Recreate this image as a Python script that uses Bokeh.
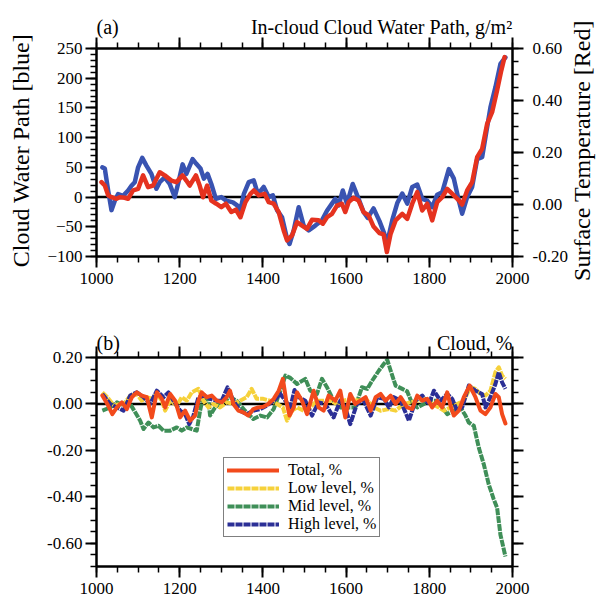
import math
from bokeh.plotting import figure
from bokeh.models import (Range1d, LinearAxis, SingleIntervalTicker,
                          Legend, LegendItem, PrintfTickFormatter, CustomJSTickFormatter)
from bokeh.core.properties import value
from bokeh.layouts import column
from bokeh.embed import file_html
from bokeh.resources import INLINE

# ---- (a) in-cloud cloud water path (g/m^2) and surface temperature anomaly
cwp_years = [1014, 1020, 1028, 1036, 1044, 1052, 1064, 1076, 1084, 1092, 1100, 1110,
             1120, 1132, 1144, 1152, 1164, 1176, 1188, 1196, 1207, 1216, 1231, 1240,
             1250, 1258, 1267, 1276, 1287, 1300, 1312, 1328, 1338, 1346, 1354, 1366,
             1378, 1388, 1402, 1414, 1424, 1434, 1446, 1458, 1464, 1474, 1486, 1498,
             1510, 1526, 1542, 1554, 1566, 1574, 1582, 1592, 1602, 1616, 1630, 1642,
             1652, 1666, 1680, 1692, 1700, 1711, 1723, 1735, 1747, 1759, 1771, 1783,
             1795, 1807, 1819, 1831, 1847, 1859, 1871, 1879, 1891, 1903, 1915, 1927,
             1935, 1947, 1959, 1971, 1983]
cwp_values = [50, 48, 11, -22, -6, 5, 2, 11, 19, 25, 50, 66,
              53, 39, 14, 25, 33, 22, 0, 22, 55, 39, 64, 56,
              48, 31, 39, 22, -3, 0, -6, -9, -14, -22, 5, 25,
              28, 5, 17, 0, 3, -22, -34, -70, -79, -56, -17, -48,
              -56, -48, -39, -23, -11, -3, -14, 11, -11, 22, -3, -25,
              -35, -19, -40, -62, -73, -39, -10, 6, -11, 17, 21, -3,
              -6, -17, 4, 8, 47, 31, -6, -28, 0, 17, 64, 67,
              101, 151, 185, 224, 235]

tas_years = [1012, 1020, 1028, 1036, 1048, 1056, 1068, 1076, 1088, 1100, 1112, 1124,
             1136, 1152, 1164, 1180, 1192, 1207, 1216, 1224, 1239, 1248, 1256, 1266,
             1276, 1288, 1300, 1311, 1324, 1335, 1346, 1358, 1370, 1378, 1390, 1404,
             1414, 1426, 1438, 1450, 1458, 1470, 1482, 1494, 1506, 1518, 1534, 1544,
             1554, 1566, 1578, 1590, 1598, 1606, 1618, 1630, 1642, 1654, 1666, 1680,
             1690, 1698, 1707, 1719, 1735, 1747, 1759, 1771, 1783, 1795, 1807, 1819,
             1831, 1843, 1859, 1871, 1879, 1891, 1903, 1915, 1927, 1939, 1951, 1963,
             1973, 1981]
tas_values = [0.086, 0.073, 0.035, 0.028, 0.022, 0.028, 0.026, 0.022, 0.054, 0.060, 0.112, 0.067,
              0.073, 0.124, 0.112, 0.092, 0.086, 0.112, 0.092, 0.073, 0.112, 0.073, 0.028, 0.073,
              0.015, 0.003, -0.010, 0.003, -0.029, -0.020, -0.049, 0.009, 0.041, 0.054, 0.035, 0.041,
              0.009, 0.003, -0.029, -0.100, -0.138, -0.119, -0.068, -0.081, -0.094, -0.059, -0.061, -0.074,
              -0.049, -0.036, -0.004, 0.003, -0.029, 0.009, 0.026, 0.015, -0.029, -0.042, -0.085, -0.110,
              -0.115, -0.183, -0.113, -0.061, -0.036, -0.055, 0.003, 0.048, -0.023, 0.003, -0.061, 0.009,
              0.028, 0.060, 0.035, 0.016, 0.000, 0.054, 0.086, 0.182, 0.214, 0.310, 0.355, 0.439,
              0.515, 0.567]

# ---- (b) cloud fraction anomalies (%)
total_years = [1014, 1026, 1038, 1049, 1061, 1073, 1085, 1097, 1109, 1121, 1133, 1145,
               1157, 1165, 1177, 1189, 1201, 1213, 1225, 1237, 1245, 1253, 1265, 1277,
               1289, 1301, 1313, 1321, 1329, 1341, 1353, 1365, 1377, 1389, 1401, 1413,
               1426, 1438, 1448, 1456, 1464, 1474, 1482, 1494, 1506, 1522, 1534, 1546,
               1558, 1574, 1586, 1598, 1610, 1622, 1634, 1647, 1659, 1671, 1683, 1695,
               1707, 1719, 1731, 1747, 1759, 1771, 1783, 1795, 1807, 1819, 1831, 1843,
               1851, 1859, 1871, 1883, 1897, 1911, 1923, 1935, 1947, 1959, 1967, 1975,
               1983]
total_values = [0.036, 0.000, -0.044, -0.015, 0.007, -0.022, 0.029, 0.050, 0.036, 0.029, -0.058, 0.050,
                0.022, -0.015, 0.043, 0.014, -0.058, -0.029, -0.072, -0.050, 0.014, 0.050, 0.029, 0.036,
                0.014, 0.007, 0.029, 0.057, 0.000, -0.029, -0.036, -0.050, -0.022, -0.015, -0.012, 0.000,
                0.022, 0.057, 0.108, 0.014, -0.050, -0.015, 0.050, 0.014, -0.044, 0.057, -0.015, -0.029,
                0.036, 0.014, 0.057, -0.058, 0.043, 0.000, 0.014, 0.029, -0.029, 0.029, 0.043, 0.014,
                0.036, 0.000, 0.029, -0.015, -0.022, 0.036, 0.014, 0.022, -0.015, 0.014, -0.015, 0.050,
                -0.007, -0.050, -0.029, 0.029, 0.079, 0.029, -0.029, -0.044, -0.015, 0.043, 0.029, -0.044,
                -0.084]

low_years = [1014, 1026, 1042, 1057, 1069, 1081, 1097, 1109, 1121, 1133, 1145, 1157,
             1165, 1177, 1193, 1205, 1217, 1229, 1245, 1257, 1269, 1281, 1297, 1313,
             1329, 1345, 1361, 1373, 1385, 1401, 1417, 1434, 1448, 1458, 1470, 1482,
             1498, 1514, 1530, 1546, 1562, 1578, 1594, 1614, 1630, 1647, 1667, 1683,
             1703, 1719, 1739, 1755, 1775, 1791, 1807, 1823, 1835, 1851, 1867, 1883,
             1899, 1911, 1923, 1935, 1947, 1959, 1967, 1975, 1983]
low_values = [0.050, 0.029, -0.007, 0.000, 0.007, 0.036, 0.043, 0.014, 0.029, 0.022, 0.043, 0.014,
              -0.029, 0.014, -0.007, 0.029, 0.014, 0.050, 0.065, 0.014, -0.015, 0.000, -0.015, 0.007,
              0.000, 0.014, 0.029, 0.065, 0.022, 0.022, 0.014, 0.000, -0.015, -0.072, -0.029, -0.015,
              -0.029, -0.015, 0.014, 0.014, 0.014, 0.000, 0.014, 0.022, 0.014, 0.022, -0.015, -0.029,
              -0.022, -0.029, 0.000, 0.007, 0.014, 0.022, 0.000, -0.015, -0.029, -0.015, 0.000, 0.014,
              0.072, 0.065, 0.043, 0.036, 0.057, 0.137, 0.158, 0.122, 0.108]

mid_years = [1014, 1033, 1049, 1065, 1081, 1093, 1105, 1113, 1125, 1137, 1149, 1161,
             1177, 1193, 1205, 1217, 1229, 1241, 1249, 1257, 1269, 1273, 1285, 1301,
             1321, 1337, 1357, 1377, 1394, 1410, 1426, 1442, 1454, 1466, 1482, 1502,
             1514, 1530, 1542, 1554, 1570, 1586, 1606, 1622, 1638, 1651, 1663, 1679,
             1691, 1699, 1707, 1719, 1735, 1747, 1759, 1771, 1787, 1803, 1819, 1831,
             1843, 1859, 1875, 1887, 1895, 1907, 1919, 1931, 1943, 1955, 1963, 1971,
             1983]
mid_values = [-0.029, -0.015, 0.007, -0.007, 0.000, -0.036, -0.072, -0.108, -0.080, -0.101, -0.094, -0.115,
              -0.115, -0.101, -0.115, -0.101, -0.108, -0.115, -0.029, 0.036, 0.014, -0.050, -0.015, 0.007,
              0.029, 0.014, -0.029, -0.065, -0.050, -0.058, -0.022, 0.057, 0.122, 0.112, 0.086, 0.108,
              0.057, 0.043, 0.108, 0.072, 0.014, -0.015, -0.015, -0.015, 0.072, 0.065, 0.101, 0.144,
              0.173, 0.190, 0.144, 0.079, 0.065, 0.054, 0.000, -0.015, 0.000, 0.014, 0.014, -0.015,
              -0.044, -0.029, -0.015, -0.050, -0.080, -0.094, -0.188, -0.260, -0.347, -0.411, -0.447, -0.563,
              -0.657]

high_years = [1014, 1033, 1049, 1065, 1081, 1097, 1113, 1129, 1145, 1161, 1173, 1185,
              1201, 1213, 1223, 1233, 1245, 1261, 1273, 1289, 1301, 1315, 1329, 1345,
              1361, 1377, 1394, 1410, 1426, 1442, 1454, 1466, 1476, 1486, 1502, 1518,
              1534, 1550, 1570, 1586, 1598, 1610, 1626, 1642, 1659, 1675, 1691, 1703,
              1715, 1731, 1751, 1767, 1783, 1799, 1811, 1827, 1843, 1855, 1867, 1879,
              1895, 1911, 1927, 1935, 1947, 1959, 1967, 1975, 1983]
high_values = [0.043, 0.000, -0.015, -0.029, 0.036, 0.050, 0.029, 0.000, 0.057, 0.029, 0.050, 0.014,
               -0.029, -0.044, -0.087, -0.050, 0.029, 0.036, 0.022, 0.014, 0.014, 0.072, 0.014, -0.029,
               -0.044, -0.029, -0.022, -0.007, 0.014, 0.043, 0.014, -0.015, 0.060, 0.029, 0.014, -0.050,
               0.007, 0.000, -0.058, 0.014, -0.015, -0.087, 0.000, 0.014, -0.050, 0.029, 0.022, -0.015,
               0.029, 0.014, -0.072, 0.014, 0.036, 0.000, 0.057, 0.014, 0.043, 0.022, -0.029, -0.015,
               0.079, 0.057, 0.043, -0.015, 0.029, 0.086, 0.137, 0.093, 0.065]

# axis extents of the two panels
YEAR_START, YEAR_END = 1000, 2000
CWP_MIN, CWP_MAX = -100, 250
TAS_MIN, TAS_MAX = -0.2, 0.6
CLD_MIN, CLD_MAX = -0.7, 0.2

SERIF = "Liberation Serif"
EPS = 1e-9

# page geometry (pixels): each plot box is 416 px wide, 96 px from the left edge
PAGE_W = 596
BOX_LEFT, BOX_W = 96, 416
X_PER_PX = (YEAR_END - YEAR_START) / BOX_W


def px_to_year(px):
    return YEAR_START + (px - BOX_LEFT) * X_PER_PX


def style_axis(ax, interval, minor, fmt=None, labels=True, standoff=4):
    ax.ticker = SingleIntervalTicker(interval=interval, num_minor_ticks=minor)
    ax.axis_line_width = 2.5
    ax.axis_line_color = "black"
    ax.major_tick_line_width = 2
    ax.minor_tick_line_width = 1.5
    ax.major_tick_line_color = "black"
    ax.minor_tick_line_color = "black"
    ax.major_tick_out = 11
    ax.major_tick_in = 0
    ax.minor_tick_out = 6
    ax.minor_tick_in = 0
    ax.major_label_text_font = SERIF
    ax.major_label_text_color = "black"
    if labels:
        ax.major_label_text_font_size = "17px"
        ax.major_label_standoff = standoff
        if fmt:
            ax.formatter = PrintfTickFormatter(format=fmt)
    else:
        ax.formatter = CustomJSTickFormatter(code="return ''")
        ax.major_label_text_font_size = "0px"
        ax.major_label_standoff = 0


class Panel:
    """A figure whose drawing area covers the whole figure; the plot box, its
    axes, titles and axis titles are all placed inside it."""

    def __init__(self, height, box_top, box_h, y0, y1):
        self.height, self.box_top, self.box_h = height, box_top, box_h
        self.y0, self.y1 = y0, y1
        self.per_px = (y1 - y0) / box_h
        self.fig = figure(
            width=PAGE_W, height=height,
            x_range=Range1d(px_to_year(0), px_to_year(PAGE_W)),
            y_range=Range1d(self.y_at(height), self.y_at(0)),
            output_backend="svg", toolbar_location=None, title=None,
            x_axis_location=None, y_axis_location=None,
            min_border_left=0, min_border_right=0, min_border_top=0, min_border_bottom=0)
        p = self.fig
        p.outline_line_color = None
        p.xgrid.visible = False
        p.ygrid.visible = False

    def y_at(self, px):
        return self.y1 - (px - self.box_top) * self.per_px

    def box(self, y_interval, y_minor, y_fmt):
        p = self.fig
        xb = LinearAxis(bounds=(YEAR_START, YEAR_END), fixed_location=self.y0)
        style_axis(xb, 200, 4, standoff=5)
        p.add_layout(xb, "below")
        xt = LinearAxis(bounds=(YEAR_START, YEAR_END), fixed_location=self.y1)
        style_axis(xt, 200, 4, labels=False)
        p.add_layout(xt, "above")
        yl = LinearAxis(bounds=(self.y0 - EPS, self.y1 + EPS), fixed_location=YEAR_START)
        style_axis(yl, y_interval, y_minor, fmt=y_fmt, standoff=3)
        p.add_layout(yl, "left")
        # zero reference line across the box
        p.line([YEAR_START, YEAR_END], [0, 0], line_color="black", line_width=2.5)

    def titles(self, baseline_px, left_text, right_text):
        y = self.y_at(baseline_px)
        for x, txt, align in ((YEAR_START, left_text, "left"), (YEAR_END, right_text, "right")):
            self.fig.text(x=[x], y=[y], text=[txt], text_align=align,
                          text_baseline="alphabetic", text_font=value(SERIF),
                          text_font_size=value("20px"), text_color="black")

    def vertical_title(self, x_px, y_px, txt):
        self.fig.text(x=[px_to_year(x_px)], y=[self.y_at(y_px)], text=[txt],
                      angle=math.pi / 2, text_align="center", text_baseline="middle",
                      text_font=value(SERIF), text_font_size=value("24px"),
                      text_color="black")


# ---------------- panel (a)
pa = Panel(300, 48, 208, CWP_MIN, CWP_MAX)
p1 = pa.fig
pa.box(50, 5, None)

tas_per_px = (TAS_MAX - TAS_MIN) / pa.box_h
p1.extra_y_ranges = {"temp": Range1d(TAS_MIN - (pa.height - pa.box_top - pa.box_h) * tas_per_px,
                                     TAS_MAX + pa.box_top * tas_per_px)}
yr = LinearAxis(y_range_name="temp", bounds=(TAS_MIN - EPS, TAS_MAX + EPS),
                fixed_location=YEAR_END)
style_axis(yr, 0.2, 4, fmt="%.2f", standoff=9)
p1.add_layout(yr, "right")

p1.line(cwp_years, cwp_values, line_color="#3953b1", line_width=4.5,
        line_join="round", line_cap="round")
p1.line(tas_years, tas_values, y_range_name="temp", line_color="#e5321f", line_width=4.5,
        line_join="round", line_cap="round")

pa.titles(26, "(a)", "In-cloud Cloud Water Path, g/m\u00b2")
pa.vertical_title(20, 150, "Cloud Water Path [blue]")
pa.vertical_title(581, 150, "Surface Temperature [Red]")

# ---------------- panel (b)
pb = Panel(302, 57, 209, CLD_MIN, CLD_MAX)
p2 = pb.fig
pb.box(0.2, 4, "%.2f")
yr2 = LinearAxis(bounds=(CLD_MIN - EPS, CLD_MAX + EPS), fixed_location=YEAR_END)
style_axis(yr2, 0.2, 4, labels=False)
p2.add_layout(yr2, "right")

r_mid = p2.line(mid_years, mid_values, line_color="#3f8f58", line_width=4,
                line_dash="7 1", line_join="round")
r_low = p2.line(low_years, low_values, line_color="#f6d13a", line_width=4,
                line_dash="7 1", line_join="round")
r_high = p2.line(high_years, high_values, line_color="#2b2f96", line_width=4,
                 line_dash="7 1", line_join="round")
r_tot = p2.line(total_years, total_values, line_color="#f24a1c", line_width=4,
                line_join="round", line_cap="round")

pb.titles(42, "(b)", "Cloud, %")

legend = Legend(items=[LegendItem(label="Total, %", renderers=[r_tot]),
                       LegendItem(label="Low level, %", renderers=[r_low]),
                       LegendItem(label="Mid level, %", renderers=[r_mid]),
                       LegendItem(label="High level, %", renderers=[r_high])],
                location=(223, 65), orientation="vertical")
legend.label_text_font = SERIF
legend.label_text_font_size = "16px"
legend.label_text_color = "black"
legend.glyph_width = 52
legend.glyph_height = 18
legend.label_height = 18
legend.label_standoff = 9
legend.spacing = 0
legend.padding = 3
legend.margin = 0
legend.border_line_color = "black"
legend.border_line_width = 1
legend.background_fill_alpha = 1
p2.add_layout(legend)

page = column(p1, p2)
open("out.html", "w").write(file_html(page, INLINE))
